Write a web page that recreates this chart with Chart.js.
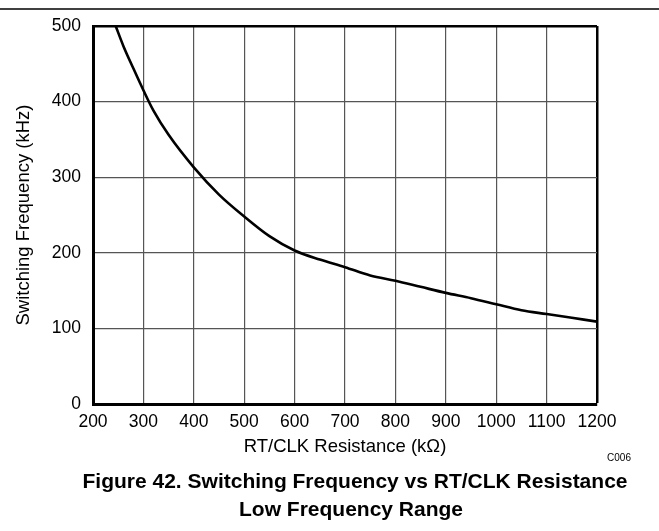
<!DOCTYPE html>
<html>
<head>
<meta charset="utf-8">
<script src="https://cdn.jsdelivr.net/npm/chart.js@4/dist/chart.umd.min.js"></script>
<style>
  html, body { margin: 0; padding: 0; background: #fff; }
  #wrap { width: 659px; height: 531px; position: relative; }
</style>
</head>
<body>
<div id="wrap"><canvas id="chart" width="659" height="531"></canvas></div>
<script>
// RT/CLK resistance (kOhm) and switching frequency (kHz)
const resistance = [245, 260, 280, 300, 320, 350, 400, 450, 500, 550, 600, 650, 700, 750, 800, 850, 900, 950, 1000, 1050, 1100, 1150, 1200];
const frequency = [500, 474, 444, 415, 388, 356, 313, 277, 248, 222, 203, 191, 181, 170, 163, 155, 147, 140, 132, 124, 119, 114, 109];

const xTicks = [200, 300, 400, 500, 600, 700, 800, 900, 1000, 1100, 1200];
const yTicks = [0, 100, 200, 300, 400, 500];

const xLabel = "RT/CLK Resistance (k\u03A9)";
const yLabel = "Switching Frequency (kHz)";
const caption = ["Figure 42. Switching Frequency vs RT/CLK Resistance", "Low Frequency Range"];
const code = "C006";

const FONT = "'Liberation Sans', Arial, sans-serif";

const points = resistance.map((r, i) => ({ x: r, y: frequency[i] }));

// page rule at the top, the figure code and the caption under the plot
const extras = {
  id: "extras",
  afterDraw(chart) {
    const ctx = chart.ctx;
    ctx.save();
    ctx.strokeStyle = "#000";
    ctx.lineWidth = 1.5;
    ctx.beginPath();
    ctx.moveTo(0, 9);
    ctx.lineTo(659, 9);
    ctx.stroke();

    ctx.fillStyle = "#000";
    ctx.textAlign = "center";
    ctx.textBaseline = "alphabetic";
    ctx.font = "10px " + FONT;
    ctx.fillText(code, 619, 461);

    ctx.font = "bold 21px " + FONT;
    ctx.fillText(caption[0], 355, 488);
    ctx.fillText(caption[1], 351, 516);
    ctx.restore();
  },
};

function edgeColor(max) {
  return (c) => (c.tick && c.tick.value === max ? "#000" : "#555");
}
function edgeWidth(max) {
  return (c) => (c.tick && c.tick.value === max ? 2.5 : 1.2);
}

new Chart(document.getElementById("chart"), {
  type: "line",
  data: {
    datasets: [
      {
        data: points,
        borderColor: "#000",
        borderWidth: 2.6,
        pointRadius: 0,
        fill: false,
        cubicInterpolationMode: "monotone",
      },
    ],
  },
  options: {
    responsive: false,
    animation: false,
    layout: { padding: { left: 0, right: 62, top: 26, bottom: 70 } },
    plugins: {
      legend: { display: false },
      tooltip: { enabled: false },
    },
    scales: {
      x: {
        type: "linear",
        min: 200,
        max: 1200,
        afterBuildTicks: (s) => { s.ticks = xTicks.map((v) => ({ value: v })); },
        afterFit: (s) => { s.height = 57; },
        ticks: {
          color: "#000",
          font: { family: FONT, size: 17.5 },
          padding: 8,
          maxRotation: 0,
          callback: (v) => String(v),
        },
        grid: { color: edgeColor(1200), lineWidth: edgeWidth(1200), drawTicks: false },
        border: { color: "#000", width: 3 },
        title: {
          display: true,
          text: xLabel,
          color: "#000",
          font: { family: FONT, size: 18.5 },
          padding: { top: 0, bottom: 3 },
        },
      },
      y: {
        min: 0,
        max: 500,
        afterBuildTicks: (s) => { s.ticks = yTicks.map((v) => ({ value: v })); },
        afterFit: (s) => { s.width = 93; },
        ticks: {
          color: "#000",
          font: { family: FONT, size: 17.5 },
          padding: 12,
          callback: (v) => String(v),
        },
        grid: { color: edgeColor(500), lineWidth: edgeWidth(500), drawTicks: false },
        border: { color: "#000", width: 3 },
        title: {
          display: true,
          text: yLabel,
          color: "#000",
          font: { family: FONT, size: 18.5 },
          padding: { top: 13, bottom: 0 },
        },
      },
    },
  },
  plugins: [extras],
});
</script>
</body>
</html>
